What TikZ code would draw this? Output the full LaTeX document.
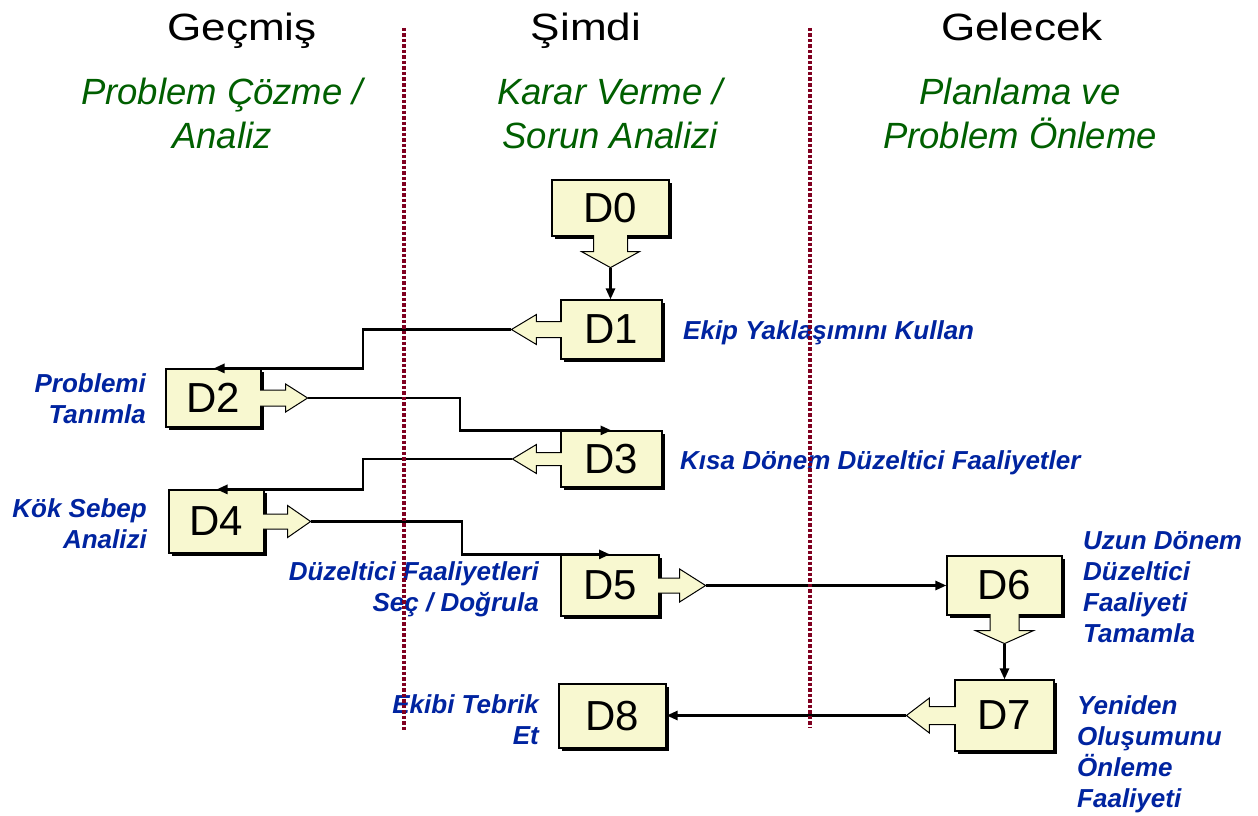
\documentclass[tikz,border=0pt]{standalone}
\usepackage{fontspec}
\setmainfont{Liberation Sans}
\usetikzlibrary{arrows.meta,shadows}

\definecolor{boxfill}{RGB}{248,248,208}
\definecolor{sepred}{RGB}{128,0,32}
\definecolor{phasegreen}{RGB}{0,95,0}
\definecolor{labelblue}{RGB}{0,36,160}

\tikzset{
  pics/blockarrow/.style n args={4}{code={
    % #1 stem half width, #2 head half width, #3 stem length, #4 head length
    \filldraw[blk] (-1.5,-#1) -- (#3,-#1) -- (#3,-#2) -- (#3+#4,0)
                   -- (#3,#2) -- (#3,#1) -- (-1.5,#1);
    \coordinate (-tip) at (#3+#4,0);
  }}
}

\begin{document}
\begin{tikzpicture}[x=1pt,y=-1pt,
  stepbox/.style={draw=black, line width=1.2pt, fill=boxfill, inner sep=0pt,
    font=\fontsize{42}{42}\selectfont,
    drop shadow={shadow xshift=2.5pt, shadow yshift=-2.5pt, opacity=1, fill=black}},
  blk/.style={draw=black, line width=1pt, fill=boxfill, line join=miter},
  conn/.style={draw=black, line width=2.6pt, -{Triangle[length=11pt,width=9pt]}},
  sep/.style={draw=sepred, line width=3.5pt, dash pattern=on 3.5pt off 2pt},
  phase/.style={anchor=base, inner sep=0pt, font=\fontsize{38}{40}\selectfont},
  approach/.style={anchor=base, inner sep=0pt, align=center, text=phasegreen,
    font=\fontsize{36.5}{44}\selectfont\itshape},
  lab/.style={inner sep=0pt, text=labelblue,
    font=\fontsize{26}{31}\selectfont\bfseries\itshape},
]
\useasboundingbox[fill=white] (0,0) rectangle (1258,816);

% column headings (base anchor = baseline of the last line)
\node[phase] (hpast) at (242,41) {\scalebox{1.16}[1]{Geçmiş}};
\node[phase] (hnow)  at (586,41) {\scalebox{1.16}[1]{Şimdi}};
\node[phase] (hfut)  at (1022,41) {\scalebox{1.16}[1]{Gelecek}};

\node[approach] (apast) at (222,148) {Problem Çözme /\\Analiz};
\node[approach] (anow)  at (610,148) {Karar Verme /\\Sorun Analizi};
\node[approach] (afut)  at (1020,148) {Planlama ve\\Problem Önleme};

% discipline boxes
\node[stepbox, minimum width=117, minimum height=56] (D0) at (610.5,208) {D0};
\node[stepbox, minimum width=101, minimum height=59] (D1) at (611.5,329.5) {D1};
\node[stepbox, minimum width=95,  minimum height=58] (D2) at (213.5,398) {D2};
\node[stepbox, minimum width=101, minimum height=56] (D3) at (611.5,459) {D3};
\node[stepbox, minimum width=95,  minimum height=63] (D4) at (216.5,521.5) {D4};
\node[stepbox, minimum width=98,  minimum height=61] (D5) at (610,585.5) {D5};
\node[stepbox, minimum width=115, minimum height=59] (D6) at (1004.5,585.5) {D6};
\node[stepbox, minimum width=99,  minimum height=71] (D7) at (1004.5,715.5) {D7};
\node[stepbox, minimum width=107, minimum height=64] (D8) at (612.5,716) {D8};

% block arrows leaving the boxes
\pic[rotate=-90] (a0) at (D0.south) {blockarrow={17}{29}{15}{16}};
\pic[rotate=180] (a1) at (D1.west)  {blockarrow={8}{15}{24}{25}};
\pic             (a2) at (D2.east)  {blockarrow={8}{14}{24}{22}};
\pic[rotate=180] (a3) at (D3.west)  {blockarrow={6.5}{14.5}{24}{24}};
\pic             (a4) at (D4.east)  {blockarrow={7.5}{16}{23}{23}};
\pic             (a5) at (D5.east)  {blockarrow={7.5}{16.5}{20}{26}};
\pic[rotate=-90] (a6) at (D6.south) {blockarrow={14.5}{29}{15}{13}};
\pic[rotate=180] (a7) at (D7.west)  {blockarrow={9}{17.5}{25}{23}};

% elbow points of the connectors
\coordinate (j1) at (363,350);
\coordinate (j2) at (460,414);
\coordinate (j3) at (363,475);
\coordinate (j4) at (462,540);

% connectors
\draw[conn] (a0-tip) -- (a0-tip |- D1.north);
\draw[conn] (a1-tip) -| (j1) |- (D2.north);
\draw[conn] (a2-tip) -| (j2) |- (D3.north);
\draw[conn] (a3-tip) -| (j3) |- (D4.north);
\draw[conn] (a4-tip) -| (j4) |- (D5.north);
\draw[conn] (a5-tip) -- (a5-tip -| D6.west);
\draw[conn] (a6-tip) -- (a6-tip |- D7.north);
\draw[conn] (a7-tip) -- (a7-tip -| D8.east);

% step descriptions (multi-line ones placed by their last baseline)
\node[lab, anchor=base west] (t1) at (683,339) {Ekip Yaklaşımını Kullan};
\node[lab, anchor=base east, align=right] (t2) at (146,423) {Problemi\\Tanımla};
\node[lab, anchor=base west] (t3) at (680,469) {Kısa Dönem Düzeltici Faaliyetler};
\node[lab, anchor=base east, align=right] (t4) at (147,548) {Kök Sebep\\Analizi};
\node[lab, anchor=base east, align=right] (t5) at (539,611) {Düzeltici Faaliyetleri\\Seç / Doğrula};
\node[lab, anchor=base west, align=left] (t6) at (1083,642) {Uzun Dönem\\Düzeltici\\Faaliyeti\\Tamamla};
\node[lab, anchor=base west, align=left] (t7) at (1077,807) {Yeniden\\Oluşumunu\\Önleme\\Faaliyeti};
\node[lab, anchor=base east, align=right] (t8) at (539,744) {Ekibi Tebrik\\Et};

% time separators
\coordinate (s1t) at (404,28);  \coordinate (s1b) at (404,730);
\coordinate (s2t) at (810,28);  \coordinate (s2b) at (810,727);
\draw[sep] (s1t) -- (s1b);
\draw[sep] (s2t) -- (s2b);
\end{tikzpicture}
\end{document}
